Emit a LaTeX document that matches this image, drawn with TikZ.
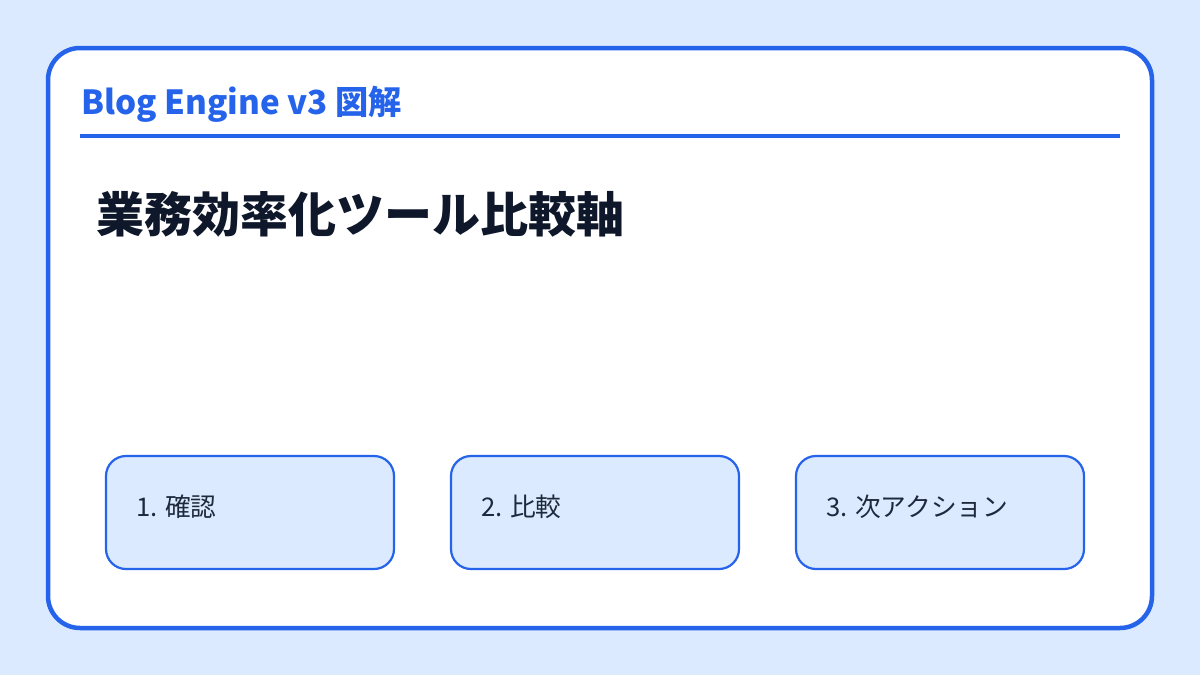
\documentclass[tikz,border=0pt]{standalone}
\usepackage{fontspec}
\setmainfont{Noto Sans CJK JP}
\definecolor{bgblue}{HTML}{DBEAFE}
\definecolor{accent}{HTML}{2563EB}
\definecolor{ink}{HTML}{0F172A}
\definecolor{boxink}{HTML}{1E293B}
\tikzset{
  card/.style={draw=accent, line width=4.5pt, fill=white, rounded corners=32pt},
  stepbox/.style={draw=accent, line width=2.2pt, fill=bgblue, rounded corners=20pt},
  steplabel/.style={anchor=base west, inner sep=0pt, text=boxink, font=\fontsize{25.7}{30}\selectfont},
}
\begin{document}
\begin{tikzpicture}[x=1pt,y=-1pt]
\fill[bgblue] (0,0) rectangle (1200,675);
\useasboundingbox (0,0) rectangle (1200,675);
\draw[card] (48,48) rectangle (1152,628);
\node[anchor=base west, inner sep=0pt, text=accent, font=\fontsize{33.2}{37}\selectfont\bfseries] (brand) at (81,114) {Blog Engine v3 図解};
\coordinate (ruleL) at (80,136);
\coordinate (ruleR) at (1120,136);
\draw[accent, line width=3.5pt] (ruleL) -- (ruleR);
\node[anchor=base west, inner sep=0pt, text=ink, font=\fontsize{48}{54}\selectfont\bfseries] (title) at (96,232) {業務効率化ツール比較軸};
\draw[stepbox] (106,456) rectangle (394,569);
\draw[stepbox] (451,456) rectangle (739,569);
\draw[stepbox] (796,456) rectangle (1084,569);
\node[steplabel] (s1) at (136,516) {1. 確認};
\node[steplabel] (s2) at (481,516) {2. 比較};
\node[steplabel] (s3) at (826,516) {3. 次アクション};
\end{tikzpicture}
\end{document}
